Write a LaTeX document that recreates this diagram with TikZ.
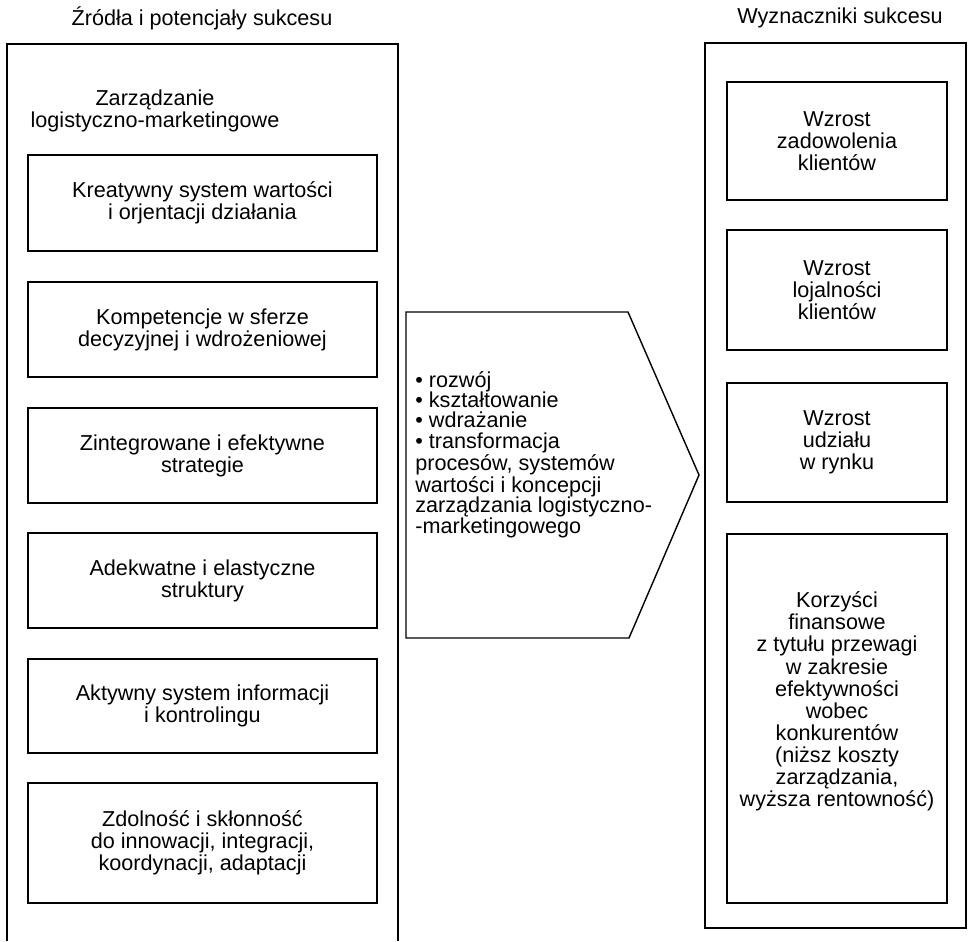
\documentclass[tikz,border=0pt]{standalone}
\usepackage{fontspec}
\setmainfont{Liberation Sans}

\begin{document}
\begin{tikzpicture}[
    font=\fontsize{12.3}{12.6}\selectfont,
    frame/.style={line width=0.8pt},
    srcbox/.style={draw, line width=0.8pt, minimum width=6.98cm, align=center, inner sep=0pt},
    resbox/.style={draw, line width=0.8pt, minimum width=4.4cm, align=center, inner sep=0pt},
    midtext/.style={font=\fontsize{12.3}{11.6}\selectfont, align=left, anchor=west, inner sep=0pt}
]
    \useasboundingbox (0,0) rectangle (19.4,18.82);

    % --- Left column: sources ---
    \node (srctitle) at (4.04, 18.46) {Źródła i potencjały sukcesu};
    \draw[frame] (0.14, 0) -- (0.14, 17.94) -- (7.96, 17.94) -- (7.96, 0);
    \node[align=center, inner sep=0pt] (zlm) at (3.1, 16.6) {Zarządzanie\\logistyczno-marketingowe};

    \node[srcbox, minimum height=1.92cm] (s1) at (4.05, 14.76) {Kreatywny system wartości\\i orjentacji działania};
    \node[srcbox, minimum height=1.9cm] (s2) at (4.05, 12.23) {Kompetencje w sferze\\decyzyjnej i wdrożeniowej};
    \node[srcbox, minimum height=1.9cm] (s3) at (4.05, 9.71) {Zintegrowane i efektywne\\strategie};
    \node[srcbox, minimum height=1.9cm] (s4) at (4.05, 7.21) {Adekwatne i elastyczne\\struktury};
    \node[srcbox, minimum height=1.88cm] (s5) at (4.05, 4.70) {Aktywny system informacji\\i kontrolingu};
    \node[srcbox, minimum height=2.4cm] (s6) at (4.05, 1.96) {Zdolność i skłonność\\do innowacji, integracji,\\koordynacji, adaptacji};

    % --- Middle arrow ---
    \draw[frame] (8.12, 12.58) -- (12.56, 12.58) -- (13.98, 9.32) -- (12.58, 6.06) -- (8.12, 6.06) -- cycle;
    \node[midtext] (actions) at (8.3, 9.73) {• rozwój\\• kształtowanie\\• wdrażanie\\• transformacja\\procesów, systemów\\wartości i koncepcji\\zarządzania logistyczno-\\-marketingowego};

    % --- Right column: determinants ---
    \node (restitle) at (16.8, 18.46) {Wyznaczniki sukcesu};
    \draw[frame] (14.1, 0.26) rectangle (19.32, 17.96);

    \node[resbox, minimum height=2.36cm] (r1) at (16.74, 16.0) {Wzrost\\zadowolenia\\klientów};
    \node[resbox, minimum height=2.4cm] (r2) at (16.74, 13.02) {Wzrost\\lojalności\\klientów};
    \node[resbox, minimum height=2.38cm] (r3) at (16.74, 9.97) {Wzrost\\udziału\\w rynku};
    \node[resbox, minimum height=7.38cm] (r4) at (16.74, 4.45) {};
    \node[align=center, inner sep=0pt, yshift=0.34cm] (r4text) at (r4.center) {Korzyści\\finansowe\\z tytułu przewagi\\w zakresie\\efektywności\\wobec\\konkurentów\\(niższ koszty\\zarządzania,\\wyższa rentowność)};

\end{tikzpicture}
\end{document}
